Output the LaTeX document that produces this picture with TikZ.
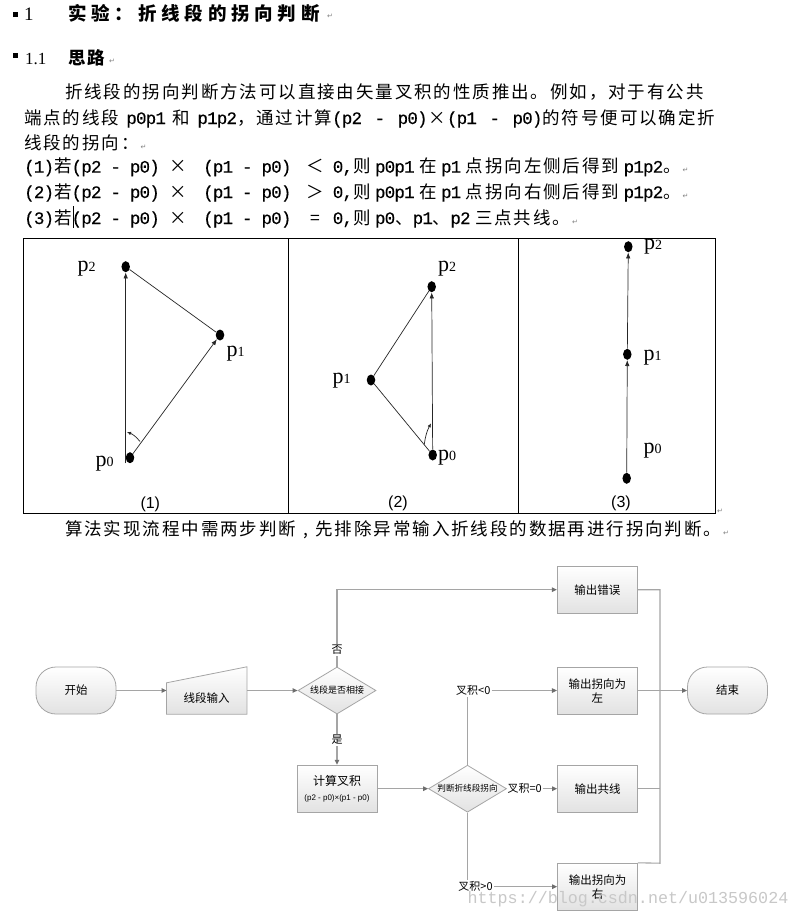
\documentclass[tikz,border=0pt]{standalone}
\usepackage{fontspec}
\setmainfont{Liberation Serif}
\newfontfamily\zh[LetterSpace=10.9]{Noto Sans CJK SC}
\newfontfamily\zhp{Noto Sans CJK SC}
\newfontfamily\hdzh[LetterSpace=26]{Noto Sans CJK SC}
\newfontfamily\hdzhb[LetterSpace=8]{Noto Sans CJK SC}
\newfontfamily\mn[LetterSpace=-4.6,WordSpace=0.924,FakeBold=0.3]{Liberation Mono}
\newfontfamily\wmfont{Liberation Mono}
\newfontfamily\djv{DejaVu Sans}
\newfontfamily\sansf{Liberation Sans}
\usetikzlibrary{arrows.meta,shapes.geometric,calc}

\definecolor{bordc}{RGB}{165,165,165}
\definecolor{fillc}{RGB}{226,226,226}
\definecolor{linec}{RGB}{165,165,165}
\definecolor{arrc}{RGB}{110,110,110}
\definecolor{wmc}{RGB}{200,200,200}

\newcommand\Z[1]{{\zh #1}}
\newcommand\g{\hspace{4.5pt}}
\newcommand\W[1]{\makebox[19.4pt]{\zhp #1}}
\newcommand\ret{{\djv\fontsize{7}{7}\selectfont\color{gray}↵}}
\newcommand\pl[1]{p{\fontsize{14}{14}\selectfont #1}}

\tikzset{
  bl/.style={anchor=base west, inner sep=0pt, font=\mn\fontsize{17.5}{20}\selectfont},
  retm/.style={inner sep=0pt, font=\djv\fontsize{7}{7}\selectfont, text=gray},
  dot/.style={ellipse, fill=black, minimum width=8.5pt, minimum height=11pt, inner sep=0pt},
  parr/.style={draw=black!85, line width=0.7pt, -{Latex[length=6pt,width=4.5pt]}},
  pline/.style={draw=black!85, line width=0.7pt},
  plab/.style={inner sep=0pt, font=\fontsize{22}{22}\selectfont},
  capt/.style={inner sep=0pt, font=\sansf\fontsize{16}{16}\selectfont},
  fbx/.style={draw=bordc, line width=0.8pt, top color=white, bottom color=fillc, minimum width=80pt, minimum height=47pt, inner sep=1pt, align=center, font=\zhp\fontsize{11.5}{14}\selectfont},
  term/.style={fbx, rounded corners=20pt},
  dec/.style={diamond, draw=bordc, line width=0.8pt, top color=white, bottom color=fillc, minimum width=78pt, minimum height=47pt, inner sep=0pt},
  conn/.style={draw=linec, line width=1.1pt, -{Triangle[length=5pt,width=4.5pt,color=arrc]}},
  wire/.style={draw=linec, line width=1.1pt},
  flab/.style={font=\zhp\fontsize{11}{12}\selectfont, inner sep=1pt}
}

\begin{document}
\begin{tikzpicture}[x=1pt,y=-1pt]
\useasboundingbox[fill=white] (0,0) rectangle (799,919);

% ---------- headings ----------
\fill (13,12) rectangle (18,17);
\node[anchor=base west, inner sep=0pt, font=\fontsize{19}{20}\selectfont] (h1n) at (24,20) {1};
\node[anchor=base west, inner sep=0pt, font=\hdzh\bfseries\fontsize{18.5}{20}\selectfont] (h1) at (68,20) {实验：折线段的拐向判断};
\node[retm] (r1) at (330,16) {↵};
\fill (13,53) rectangle (18,57.5);
\node[anchor=base west, inner sep=0pt, font=\fontsize{17}{20}\selectfont] (h2n) at (25,64.5) {1.1};
\node[anchor=base west, inner sep=0pt, font=\hdzhb\bfseries\fontsize{17.5}{20}\selectfont] (h2) at (68,64.5) {思路};
\node[retm] (r2) at (112,61) {↵};

% ---------- paragraph ----------
\node[bl] (t1) at (65,98) {\Z{折线段的拐向判断方法可以直接由矢量叉积的性质推出。例如，对于有公共}};
\node[bl] (t2) at (24,124) {\hbox to 691pt{\Z{端点的线段}\hspace{7pt}p0p1\hspace{7pt}\Z{和}\hspace{7pt}p1p2\Z{，通过计算}(p2 - p0)\W{×}(p1 - p0)\Z{的符号便可以确定折}}};
\node[bl] (t3) at (24,149.6) {\Z{线段的拐向：}\hspace{2pt}\ret};
\node[bl] (t4) at (24,172.6) {(1)\Z{若}(p2 - p0)\hspace{9pt}\W{×}\hspace{15pt}(p1 - p0)\hspace{14pt}\W{＜}\hspace{8pt}0,\Z{则}\g p0p1\g\Z{在}\g p1\g\Z{点拐向左侧后得到}\g p1p2\Z{。}\hspace{2pt}\ret};
\node[bl] (t5) at (24,198) {(2)\Z{若}(p2 - p0)\hspace{9pt}\W{×}\hspace{15pt}(p1 - p0)\hspace{14pt}\W{＞}\hspace{8pt}0,\Z{则}\g p0p1\g\Z{在}\g p1\g\Z{点拐向右侧后得到}\g p1p2\Z{。}\hspace{2pt}\ret};
\node[bl] (t6) at (24,224) {(3)\Z{若}(p2 - p0)\hspace{9pt}\W{×}\hspace{15pt}(p1 - p0)\hspace{14pt}\W{=}\hspace{8pt}0,\Z{则}\g p0\Z{、}p1\Z{、}p2\g\Z{三点共线。}\hspace{2pt}\ret};
\draw[line width=0.6pt] (73.3,206) -- (73.3,228);

% ---------- figure table ----------
\draw[line width=0.8pt] (23,238) rectangle (715,513);
\draw[line width=0.8pt] (288,238) -- (288,513);
\draw[line width=0.8pt] (518,238) -- (518,513);
\node[retm] (r7) at (720,511) {↵};

% panel 1
\node[dot] (a2) at (125.7,266.7) {};
\node[dot] (a1) at (220,335) {};
\node[dot] (a0) at (130,457.7) {};
\draw[parr] (a2.south |- a0.south) -- (a2.south);
\draw[parr] (a0) -- (a1);
\draw[pline] (a1) -- (a2);
\coordinate (ar1s) at (140,441.5);
\coordinate (ar1e) at (127,432);
\draw[pline, -{Latex[length=4pt,width=3.5pt]}] (ar1s) to[bend right=15] (ar1e);
\node[plab] (la2) at (86.5,269) {\pl{2}};
\node[plab] (la1) at (235.5,354) {\pl{1}};
\node[plab] (la0) at (104.7,464) {\pl{0}};
\node[capt] (c1cap) at (150.3,504) {(1)};

% panel 2
\node[dot] (b2) at (431.7,286.7) {};
\node[dot] (b1) at (371,380) {};
\node[dot] (b0) at (432.7,455) {};
\draw[parr] (b0) -- (b2);
\draw[pline] (b0) -- (b1);
\draw[pline] (b1) -- (b2);
\coordinate (ar2s) at (424.3,444.3);
\coordinate (ar2e) at (431,423.3);
\draw[pline, -{Latex[length=4pt,width=3.5pt]}] (ar2s) to[bend left=10] (ar2e);
\node[plab] (lb2) at (447,268.5) {\pl{2}};
\node[plab] (lb1) at (341.7,381) {\pl{1}};
\node[plab] (lb0) at (447,458) {\pl{0}};
\node[capt] (c2cap) at (398,503) {(2)};

% panel 3
\node[dot] (c2) at (628.3,246.7) {};
\node[dot] (c1) at (627.3,354.3) {};
\node[dot] (c0) at (626.7,478.3) {};
\draw[parr] (c0) -- (c1);
\draw[parr] (c1) -- (c2);
\node[plab] (lc2) at (653,246.5) {\pl{2}};
\node[plab] (lc1) at (652.5,358) {\pl{1}};
\node[plab] (lc0) at (652.5,450.5) {\pl{0}};
\node[capt] (c3cap) at (621,503) {(3)};

% ---------- sentence ----------
\node[bl] (t7) at (65,535.6) {\Z{算法实现流程中需两步判断}\W{,}\Z{先排除异常输入折线段的数据再进行拐向判断。}\hspace{2pt}\ret};

% ---------- flowchart ----------
\node[term] (start) at (76,690.5) {开始};
\node[minimum width=80pt, minimum height=47pt, inner sep=0pt] (inp) at (206.7,690.5) {};
\draw[draw=bordc, line width=0.8pt, top color=white, bottom color=fillc] (inp.south west) -- (inp.south east) -- (inp.north east) -- ($(inp.north west)+(0,16)$) -- cycle;
\node[font=\zhp\fontsize{11.5}{14}\selectfont] (inpt) at ($(inp.center)+(0,8)$) {线段输入};
\node[dec] (d1) at (337,690.5) {};
\node[font=\zhp\fontsize{9}{10}\selectfont, inner sep=0pt] (d1t) at (d1) {线段是否相接};
\node[fbx] (err) at (597.3,589.7) {输出错误};
\node[fbx] (left) at (597.3,690.5) {输出拐向为\\左};
\node[term] (end) at (727.5,690.5) {结束};
\node[fbx] (calc) at (337,788.7) {{\fontsize{12}{14}\selectfont 计算叉积}\\[1pt]{\sansf\fontsize{8}{9}\selectfont (p2 - p0)×(p1 - p0)}};
\node[dec] (d2) at (467.5,788.7) {};
\node[font=\zhp\fontsize{8.6}{10}\selectfont, inner sep=0pt] (d2t) at (d2) {判断折线段拐向};
\node[fbx] (col) at (597.5,788.7) {输出共线};
\node[fbx] (right) at (597.5,886.7) {输出拐向为\\右};

\draw[conn] (start.east) -- (inp.west);
\draw[conn] (inp.east) -- (d1.west);
\draw[conn] (d1.north) |- (err.west);
\node[flab, fill=white] (no) at (337,650) {否};
\draw[conn] (d1.south) -- (calc.north);
\node[flab, fill=white] (yes) at (337,740) {是};
\draw[conn] (calc.east) -- (d2.west);

\node[flab] (lneg) at (473.3,690.5) {叉积<0};
\draw[wire] (d2.north) -- (d2.north |- lneg.south);
\draw[conn] (lneg.east) -- (left.west);
\node[flab, anchor=west, inner sep=0.5pt] (lzero) at (d2.east) {叉积=0};
\draw[conn] (lzero.east) -- (col.west);
\node[flab] (lpos) at (475.5,886.7) {叉积>0};
\draw[wire] (d2.south) -- (d2.south |- lpos.north);
\draw[conn] (lpos.east) -- (right.west);

\coordinate (bt) at (660,589.7);
\coordinate (bb) at (660,863.2);
\draw[wire] (err.east) -- (bt) -- (bb) -- (right.north east);
\draw[wire] (col.east) -- (col.east -| bt);
\draw[conn] (left.east) -- (end.west);

% watermark
\node[font=\wmfont\fontsize{16.7}{18}\selectfont, text=wmc, inner sep=0pt] (wm) at (628,899) {https://blog.csdn.net/u013596024};
\end{tikzpicture}
\end{document}
